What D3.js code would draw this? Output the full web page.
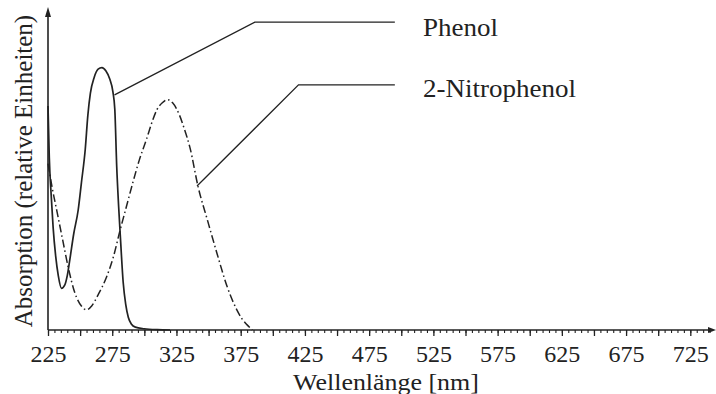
<!DOCTYPE html>
<html>
<head>
<meta charset="utf-8">
<script src="https://cdn.jsdelivr.net/npm/d3@7"></script>
<style>
  body { margin: 0; background: #fff; }
  text { font-family: "Liberation Serif", "Times New Roman", serif; fill: #222; }
</style>
</head>
<body>
<svg id="chart" width="716" height="394"></svg>
<script>
// wavelengths (nm) and relative absorption
const phenolNm  = [225, 226, 227.5, 229, 231, 233, 235.5, 238, 240, 242, 245, 248.5, 251, 254, 256, 258, 261, 264, 267, 270, 273, 275.5, 277, 278.5, 280, 281.5, 283.5, 285.5, 287.5, 290, 293, 300, 310, 320];
const phenolAbs = [0.70, 0.54, 0.42, 0.32, 0.23, 0.17, 0.13, 0.14, 0.17, 0.22, 0.30, 0.375, 0.46, 0.565, 0.67, 0.74, 0.79, 0.815, 0.82, 0.81, 0.785, 0.745, 0.69, 0.51, 0.385, 0.28, 0.15, 0.08, 0.04, 0.018, 0.009, 0.004, 0.001, 0];

const nitroNm  = [225, 228, 232, 236.5, 240.5, 246, 251, 255, 259, 264, 270.5, 276, 281, 286, 291, 296, 302, 306, 310, 314, 318, 322, 327.5, 331, 335.5, 342, 349, 356.5, 364.5, 372, 376, 380, 384];
const nitroAbs = [0.52, 0.45, 0.37, 0.28, 0.20, 0.115, 0.075, 0.063, 0.075, 0.11, 0.165, 0.23, 0.31, 0.385, 0.46, 0.53, 0.60, 0.65, 0.69, 0.71, 0.72, 0.71, 0.67, 0.63, 0.57, 0.445, 0.345, 0.24, 0.135, 0.063, 0.035, 0.016, 0];

const majorTicks = d3.range(225, 726, 25);
const tickLabels = ["225", "275", "325", "375", "425", "475", "525", "575", "625", "675", "725"];
const minorTicks = d3.range(225, 741, 5);

// leader lines: [nm, absorption] from the curve to the label
const phenolLeader = [[276.8, 0.735], [386, 0.962], [495, 0.962]];
const nitroLeader  = [[341, 0.45], [420, 0.766], [495, 0.766]];
const labelNames = ["Phenol", "2-Nitrophenol"];
const labelPos = [[517, 0.92], [517, 0.728]];

const svg = d3.select("#chart");
const x = d3.scaleLinear().domain([225, 745]).range([48, 716]);
const y = d3.scaleLinear().domain([0, 1]).range([330, 10]);
const ink = "#222";
const stretch = 1.08; // scan is a bit wider than tall

// minor ticks
svg.append("g")
    .attr("transform", "translate(0," + y(0) + ")")
    .call(d3.axisBottom(x).tickValues(minorTicks).tickSize(3).tickFormat(""))
    .call(g => g.select(".domain").remove())
    .selectAll("line").attr("stroke", ink).attr("stroke-width", 1.1);

// major ticks with labels every 50 nm
const xAxis = svg.append("g")
    .attr("transform", "translate(0," + y(0) + ")")
    .call(d3.axisBottom(x).tickValues(majorTicks).tickSize(6)
        .tickFormat(d => tickLabels.includes(String(d)) ? String(d) : ""));
xAxis.select(".domain").remove();
xAxis.selectAll("line").attr("stroke", ink).attr("stroke-width", 1.3);
xAxis.selectAll("text")
    .attr("y", 32).attr("dy", null)
    .style("font-size", "24px").attr("fill", ink);

// axis lines with arrows
svg.append("line")
    .attr("x1", x(225)).attr("x2", x(745) - 3)
    .attr("y1", y(0)).attr("y2", y(0))
    .attr("stroke", ink).attr("stroke-width", 1.6);
svg.append("path")
    .attr("d", `M${x(745)},${y(0)} l-8,-3 l0,6 z`)
    .attr("fill", ink);
svg.append("line")
    .attr("x1", x(225)).attr("x2", x(225))
    .attr("y1", y(0)).attr("y2", y(1) + 4)
    .attr("stroke", ink).attr("stroke-width", 1.6);
svg.append("path")
    .attr("d", `M${x(225)},${y(1) - 3} l-3,10 l6,0 z`)
    .attr("fill", ink);

// curves
const line = d3.line()
    .x(d => x(d[0]))
    .y(d => y(d[1]))
    .curve(d3.curveMonotoneX);

svg.append("path")
    .datum(d3.zip(phenolNm, phenolAbs))
    .attr("fill", "none")
    .attr("stroke", ink)
    .attr("stroke-width", 1.7)
    .attr("d", line);

svg.append("path")
    .datum(d3.zip(nitroNm, nitroAbs))
    .attr("fill", "none")
    .attr("stroke", ink)
    .attr("stroke-width", 1.5)
    .attr("stroke-dasharray", "8,3,1.5,3")
    .attr("d", line);

// leaders and labels
const leader = d3.line().x(d => x(d[0])).y(d => y(d[1]));
[phenolLeader, nitroLeader].forEach(pts => {
    svg.append("path")
        .attr("d", leader(pts))
        .attr("fill", "none")
        .attr("stroke", ink)
        .attr("stroke-width", 1.3);
});

labelNames.forEach((name, i) => {
    svg.append("text")
        .attr("class", "htext")
        .attr("x", x(labelPos[i][0]))
        .attr("y", y(labelPos[i][1]))
        .style("font-size", "25px")
        .text(name);
});

// axis titles
svg.append("text")
    .attr("class", "htext")
    .attr("x", 386)
    .attr("y", 390)
    .attr("text-anchor", "middle")
    .style("font-size", "24px")
    .text("Wellenlänge [nm]");

svg.append("text")
    .attr("transform", "translate(32,171) rotate(-90)")
    .attr("text-anchor", "middle")
    .style("font-size", "25px")
    .text("Absorption (relative Einheiten)");

// widen the label texts a little, like the scan
svg.selectAll(".htext").each(function () {
    const w = this.getComputedTextLength();
    if (w > 0) {
        d3.select(this)
            .attr("textLength", w * stretch)
            .attr("lengthAdjust", "spacingAndGlyphs");
    }
});
</script>
</body>
</html>
